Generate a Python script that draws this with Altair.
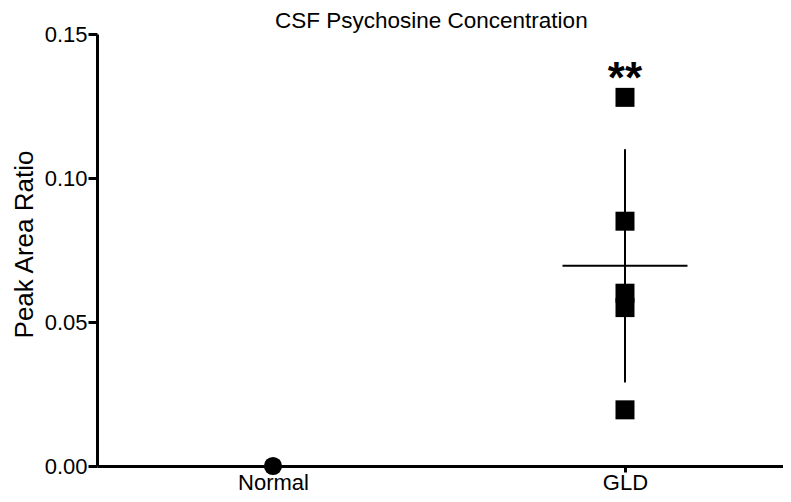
import altair as alt
import pandas as pd

# data
normal_values = [0.0]
gld_values = [0.128, 0.085, 0.060, 0.055, 0.0195]
gld_mean = [0.0695]
gld_err_low = [0.029]
gld_err_high = [0.110]
categories = ["Normal", "GLD"]
sig_label = ["**"]
sig_y = [0.1294]

FONT = "Liberation Sans"

df_normal = pd.DataFrame({"group": ["Normal"] * len(normal_values), "value": normal_values})
df_gld = pd.DataFrame({"group": ["GLD"] * len(gld_values), "value": gld_values})
df_stat = pd.DataFrame({"group": ["GLD"], "mean": gld_mean, "lo": gld_err_low, "hi": gld_err_high})
df_sig = pd.DataFrame({"group": ["GLD"], "y": sig_y, "label": sig_label})

x_enc = alt.X(
    "group:N",
    sort=categories,
    scale=alt.Scale(type="point", domain=categories, padding=0.4744, align=0.5269),
    axis=alt.Axis(title=None, labelAngle=0, labelFontSize=22, labelFont=FONT,
                  labelColor="black", domainColor="black", domainWidth=3,
                  tickColor="black", tickWidth=3, tickSize=6, labelPadding=0),
)
y_scale = alt.Scale(domain=[0, 0.15], nice=False, zero=True)
y_axis = alt.Axis(title="Peak Area Ratio", values=[0, 0.05, 0.10, 0.15], format=".2f",
                  labelFontSize=22, labelFont=FONT, labelColor="black",
                  titleFontSize=26, titleFont=FONT, titleFontWeight="normal", titleColor="black",
                  titleX=-65, titleY=210, titleBaseline="alphabetic", titleAngle=-90,
                  domainColor="black", domainWidth=3, tickColor="black", tickWidth=3,
                  tickSize=9, labelPadding=1, grid=False)

normal = alt.Chart(df_normal).mark_point(shape="circle", filled=True, size=330, color="black", opacity=1).encode(
    x=x_enc, y=alt.Y("value:Q", scale=y_scale, axis=y_axis)
)
gld = alt.Chart(df_gld).mark_point(shape="square", filled=True, size=361, color="black", opacity=1).encode(
    x=x_enc, y=alt.Y("value:Q", scale=y_scale, axis=y_axis)
)
err = alt.Chart(df_stat).mark_rule(color="black", strokeWidth=2).encode(
    x=x_enc, y=alt.Y("lo:Q", scale=y_scale, axis=y_axis), y2="hi:Q"
)
mean = alt.Chart(df_stat).mark_tick(color="black", size=125, thickness=2, orient="horizontal", opacity=1).encode(
    x=x_enc, y=alt.Y("mean:Q", scale=y_scale, axis=y_axis)
)
sig = alt.Chart(df_sig).mark_text(font=FONT, fontSize=44, fontWeight="bold", color="black",
                                   baseline="alphabetic", align="center").encode(
    x=x_enc, y=alt.Y("y:Q", scale=y_scale, axis=y_axis), text="label:N"
)

chart = alt.layer(err, mean, gld, normal, sig).properties(
    width=686, height=432,
    title=alt.Title("CSF Psychosine Concentration", fontSize=22.5, font=FONT, fontWeight="normal",
                    color="black", anchor="start", frame="group", dx=178, offset=0,
                    baseline="alphabetic", dy=27),
    padding={"left": 89, "top": 26, "right": 0, "bottom": 28},
    autosize=alt.AutoSizeParams(type="none"),
    background="white",
).configure_view(stroke=None)

chart.save("out.html", embed_options={"renderer": "svg", "actions": False})
